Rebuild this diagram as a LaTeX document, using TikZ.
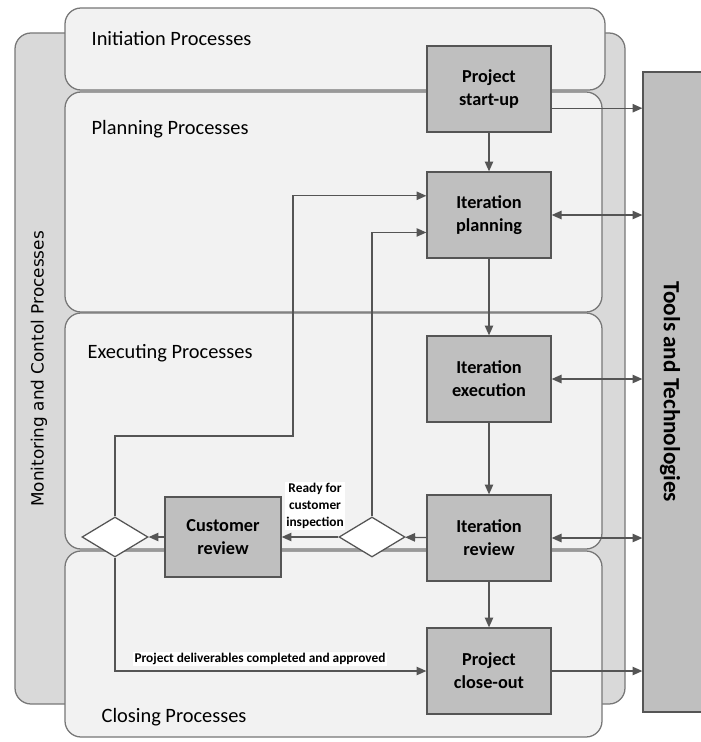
\documentclass[tikz,border=0pt]{standalone}
\usepackage{fontspec}
\setmainfont{Carlito}
\newfontfamily\monfont{DejaVu Sans}
\usetikzlibrary{calc,arrows.meta,shapes.geometric}
\definecolor{phasefill}{HTML}{F2F2F2}
\definecolor{monfill}{HTML}{D9D9D9}
\definecolor{taskfill}{HTML}{BFBFBF}
\definecolor{edge}{HTML}{555555}

\begin{document}
\begin{tikzpicture}[x = 0.025cm, y = -0.025cm,
        line width = 0.9pt, >={Triangle[length = 7pt, width = 6pt]},
        phase/.style = {draw = edge!80, fill = phasefill, rounded corners = 0.4cm},
        phasetitle/.style = {anchor = west, inner sep = 0,
            font = \fontsize{14.5}{17}\selectfont},
        task/.style = {draw = edge, fill = taskfill, minimum width = 3.1cm,
            minimum height = 2.15cm, align = center,
            font = \fontsize{13}{16.5}\selectfont\bfseries},
        gate/.style = {draw = edge, fill = white, diamond, inner sep = 0,
            minimum width = 1.65cm, minimum height = 1cm},
        note/.style = {fill = white, inner sep = 1pt, align = center,
            font = \fontsize{9.5}{12}\selectfont\bfseries},
        flow/.style = {draw = edge, ->}]
        \useasboundingbox (0, 0) rectangle (701, 742);
        % process groups
        \draw[phase, fill = monfill] (15, 33) rectangle (625, 704);
        \node[rotate = 90, font = \monfont\fontsize{12}{14}\selectfont]
            at (39, 369) (monitoring) {Monitoring and Contol Processes};
        \draw[phase] (65, 8) rectangle (605, 90);
        \draw[phase] (65, 92) rectangle (602, 312);
        \draw[phase] (65, 313) rectangle (602, 549);
        \draw[phase] (65, 551) rectangle (602, 737);
        \node[phasetitle] at (91, 39) (initiation) {Initiation Processes};
        \node[phasetitle] at (91, 129) (planning_title) {Planning Processes};
        \node[phasetitle] at (87, 353) (executing) {Executing Processes};
        \node[phasetitle] at (101, 717) (closing) {Closing Processes};
        \node[draw = edge, fill = taskfill, rotate = -90, minimum width = 16cm,
            minimum height = 1.8cm] at (679, 392) (tools) {};
        \node[rotate = -90, font = \fontsize{16.5}{19}\selectfont\bfseries]
            at (670, 392) (tools_title) {Tools and Technologies};
        % activities
        \node[task] at (489, 89) (startup) {Project\\start-up};
        \node[task] at (489, 215) (planning) {Iteration\\planning};
        \node[task] at (489, 379) (execution) {Iteration\\execution};
        \node[task] at (489, 538) (review) {Iteration\\review};
        \node[task] at (489, 671) (closeout) {Project\\close-out};
        \node[task, minimum width = 2.9cm, minimum height = 2cm]
            at (223, 537) (customer) {Customer\\review};
        \node[gate] at (372, 537) (ready) {};
        \node[gate] at (115, 537) (accepted) {};
        \node[note] at (315, 506) (ready_note) {Ready for\\customer\\inspection};
        \node[note] at (260, 659) (done_note)
            {Project deliverables completed and approved};
        % main flow
        \draw[flow] (startup) -- (planning);
        \draw[flow] (planning) -- (execution);
        \draw[flow] (execution) -- (review);
        \draw[flow] (review) -- (closeout);
        \draw[flow] (review) -- (ready);
        \draw[flow] (ready) -- (customer);
        \draw[flow] (customer) -- (accepted);
        % links to tools
        \coordinate (startup_out)
            at ($ (startup.north east)!0.72!(startup.south east) $);
        \draw[flow] (startup_out) -- (startup_out -| tools.south);
        \draw[flow, <->] (planning) -- (planning -| tools.south);
        \draw[flow, <->] (execution) -- (execution -| tools.south);
        \draw[flow, <->] (review) -- (review -| tools.south);
        \draw[flow] (closeout) -- (closeout -| tools.south);
        % feedback loops
        \coordinate (plan_in_a)
            at ($ (planning.north west)!0.28!(planning.south west) $);
        \coordinate (plan_in_b)
            at ($ (planning.north west)!0.7!(planning.south west) $);
        \coordinate (loop_bend) at (293, 436);
        \draw[flow] (accepted.north) |- (loop_bend) |- (plan_in_a);
        \draw[flow] (ready.north) |- (plan_in_b);
        \draw[flow] (accepted.south) |- (closeout.west);
    \end{tikzpicture}
\end{document}
